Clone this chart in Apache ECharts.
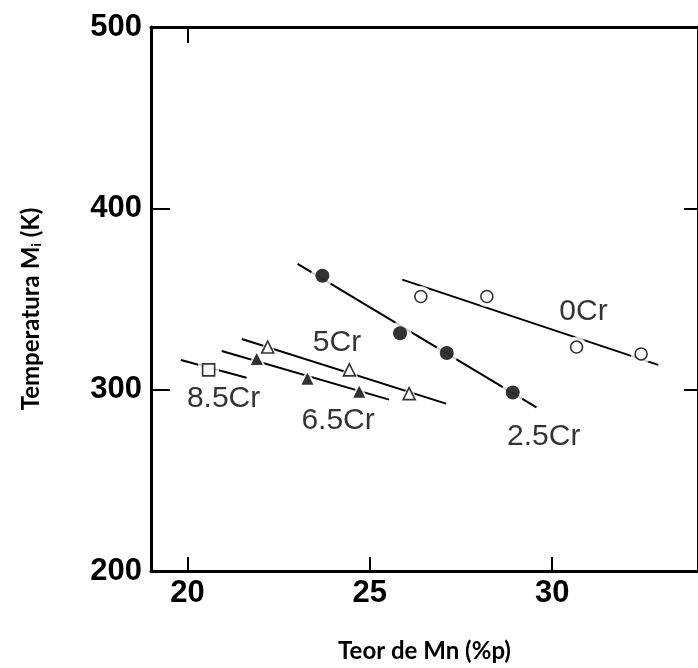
<!DOCTYPE html>
<html>
<head>
<meta charset="utf-8">
<script src="https://cdn.jsdelivr.net/npm/echarts@6/dist/echarts.min.js"></script>
<style>html,body{margin:0;padding:0;background:#fff}#chart{width:698px;height:668px}</style>
</head>
<body>
<div id="chart"></div>
<script>
// Mn content (wt%) and transformation start temperature (K) per Cr level
const cr0Mn = [26.40, 28.21, 30.67, 32.44];
const cr0T = [351.4, 351.4, 323.5, 319.7];
const cr0FitMn = [25.89, 32.91];
const cr0FitT = [360.7, 313.7];

const cr25Mn = [23.70, 25.83, 27.11, 28.92];
const cr25T = [362.8, 331.1, 320.2, 298.4];
const cr25FitMn = [23.02, 29.57];
const cr25FitT = [369.4, 290.2];

const cr5Mn = [22.20, 24.44, 26.08];
const cr5T = [323.5, 310.9, 297.8];
const cr5FitMn = [21.49, 27.09];
const cr5FitT = [327.9, 292.3];

const cr65Mn = [21.90, 23.29, 24.71];
const cr65T = [316.9, 306.0, 298.9];
const cr65FitMn = [20.94, 25.53];
const cr65FitT = [321.3, 294.5];

const cr85Mn = [20.58];
const cr85T = [310.9];
const cr85FitMn = [19.82, 21.62];
const cr85FitT = [316.4, 306.6];

// curve labels and where they sit (data coordinates)
const curveNames = ['0Cr', '2.5Cr', '5Cr', '6.5Cr', '8.5Cr'];
const curveLabelMn = [30.86, 29.77, 24.10, 24.13, 20.99];
const curveLabelT = [343.2, 274.3, 325.7, 283.1, 295.1];

const xTicks = [20, 25, 30];
const yTicks = [200, 300, 400, 500];

const zip = (a, b) => a.map((v, i) => [v, b[i]]);

const groups = [
  { mn: cr0Mn, t: cr0T, fx: cr0FitMn, fy: cr0FitT, symbol: 'circle', filled: false, size: 12 },
  { mn: cr25Mn, t: cr25T, fx: cr25FitMn, fy: cr25FitT, symbol: 'circle', filled: true, size: 14 },
  { mn: cr5Mn, t: cr5T, fx: cr5FitMn, fy: cr5FitT, symbol: 'triangle', filled: false, size: 12 },
  { mn: cr65Mn, t: cr65T, fx: cr65FitMn, fy: cr65FitT, symbol: 'triangle', filled: true, size: 12 },
  { mn: cr85Mn, t: cr85T, fx: cr85FitMn, fy: cr85FitT, symbol: 'rect', filled: false, size: 12 }
];

const series = [];
groups.forEach(g => {
  // fitted line
  series.push({
    type: 'line', data: zip(g.fx, g.fy), symbol: 'none', silent: true,
    lineStyle: { color: '#000', width: 2 }, z: 2
  });
  // white halo that breaks the line around each marker
  series.push({
    type: 'scatter', data: zip(g.mn, g.t), symbol: g.symbol, symbolSize: g.size + 9,
    itemStyle: { color: '#fff' }, silent: true, z: 3
  });
  // marker
  series.push({
    type: 'scatter', data: zip(g.mn, g.t), symbol: g.symbol, symbolSize: g.size,
    itemStyle: g.filled ? { color: '#000' } : { color: '#fff', borderColor: '#000', borderWidth: 1.6 },
    silent: true, z: 4
  });
});

// curve names
series.push({
  type: 'scatter', symbolSize: 0, silent: true, z: 5,
  data: curveNames.map((n, i) => ({ name: n, value: [curveLabelMn[i], curveLabelT[i]] })),
  label: {
    show: true, position: 'inside', formatter: p => p.name,
    fontFamily: 'Liberation Sans, Arial', fontSize: 30, color: '#000'
  }
});

const chart = echarts.init(document.getElementById('chart'), null, { renderer: 'canvas' });
chart.setOption({
  animation: false,
  backgroundColor: '#fff',
  grid: { left: 151, right: -2, top: 27, bottom: 92 },
  xAxis: [
    {
      type: 'value', min: 19, max: 34, position: 'bottom',
      name: 'Teor de Mn (%p)', nameLocation: 'middle', nameGap: 68,
      nameTextStyle: { fontFamily: 'Lato', fontWeight: 'bold', fontSize: 24, color: '#000' },
      axisLine: { show: true, lineStyle: { color: '#000', width: 3 } },
      axisTick: { show: true, inside: true, length: 14, customValues: xTicks, lineStyle: { color: '#000', width: 2 } },
      axisLabel: { show: true, customValues: xTicks, margin: 7, fontFamily: 'Liberation Sans, Arial', fontWeight: 'bold', fontSize: 31, color: '#000' },
      splitLine: { show: false }
    },
    {
      type: 'value', min: 19, max: 34, position: 'top',
      axisLine: { show: true, onZero: false, lineStyle: { color: '#000', width: 3 } },
      axisTick: { show: true, inside: true, length: 16, customValues: [20], lineStyle: { color: '#000', width: 2 } },
      axisLabel: { show: false },
      splitLine: { show: false }
    }
  ],
  yAxis: [
    {
      type: 'value', min: 200, max: 500, interval: 100, position: 'left',
      name: '{a|Temperatura M}{s|i}{a| (K)}', nameLocation: 'middle', nameGap: 108, nameRotate: 90,
      nameTextStyle: {
        padding: [0, 20, 0, 0],
        rich: {
          a: { fontFamily: 'Lato', fontWeight: 'bold', fontSize: 24, color: '#000' },
          s: { fontFamily: 'Lato', fontWeight: 'bold', fontSize: 14, color: '#000', padding: [10, 0, 0, 0] }
        }
      },
      axisLine: { show: true, lineStyle: { color: '#000', width: 3 } },
      axisTick: { show: true, inside: true, length: 19, customValues: [300, 400], lineStyle: { color: '#000', width: 2 } },
      axisLabel: {
        show: true, customValues: yTicks, margin: 9,
        fontFamily: 'Liberation Sans, Arial', fontWeight: 'bold', fontSize: 31, color: '#000'
      },
      splitLine: { show: false }
    },
    {
      type: 'value', min: 200, max: 500, interval: 100, position: 'right',
      axisLine: { show: true, onZero: false, lineStyle: { color: '#000', width: 3 } },
      axisTick: { show: true, inside: true, length: 14, customValues: [300, 400], lineStyle: { color: '#000', width: 2 } },
      axisLabel: { show: false },
      splitLine: { show: false }
    }
  ],
  series: series
});
</script>
</body>
</html>
